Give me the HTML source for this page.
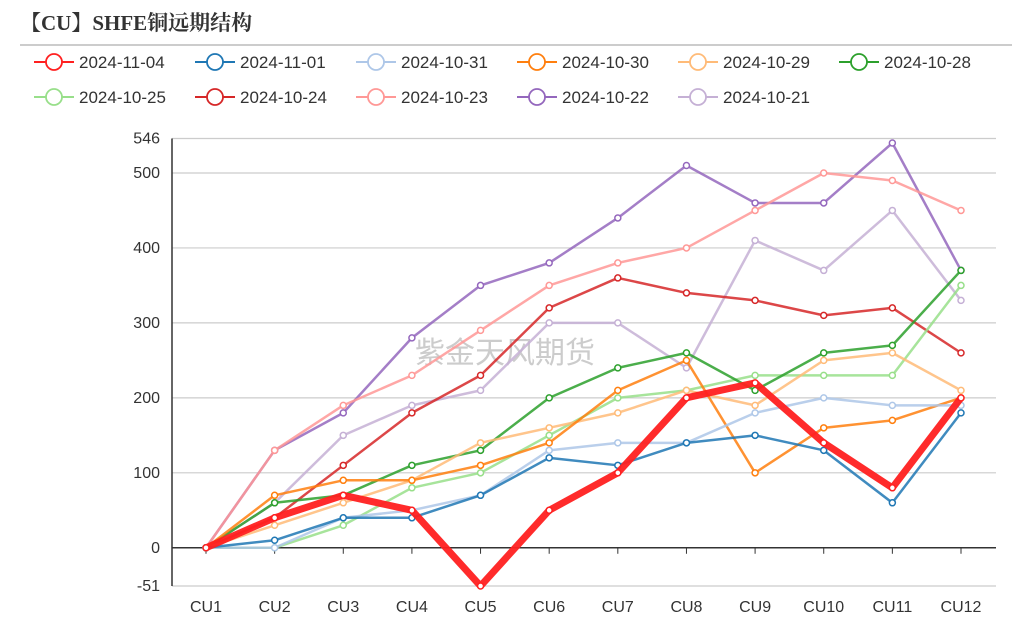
<!DOCTYPE html>
<html><head><meta charset="utf-8"><style>
body{margin:0;background:#fff;width:1012px;height:621px;overflow:hidden;font-family:"Liberation Sans","Noto Sans CJK SC",sans-serif}
</style></head><body>
<svg id="chart" width="1012" height="621" xmlns="http://www.w3.org/2000/svg">
<text x="20" y="30" font-family="'Liberation Serif','Noto Serif CJK SC',serif" font-weight="bold" font-size="21" fill="#333">【CU】SHFE铜远期结构</text>
<line x1="20" y1="45" x2="1012" y2="45" stroke="#999" stroke-width="1"/>
<text x="415" y="363" font-size="30" fill="#ccc" font-family="'Noto Sans CJK SC',sans-serif">紫金天风期货</text>
<g id="legend"></g><g id="axes"></g><g id="lines"></g>
</svg>
<script>
const categories=["CU1","CU2","CU3","CU4","CU5","CU6","CU7","CU8","CU9","CU10","CU11","CU12"];
const seriesNames=["2024-11-04","2024-11-01","2024-10-31","2024-10-30","2024-10-29","2024-10-28","2024-10-25","2024-10-24","2024-10-23","2024-10-22","2024-10-21"];
const s1104=[0,40,70,50,-51,50,100,200,220,140,80,200];
const s1101=[0,10,40,40,70,120,110,140,150,130,60,180];
const s1031=[0,0,40,50,70,130,140,140,180,200,190,190];
const s1030=[0,70,90,90,110,140,210,250,100,160,170,200];
const s1029=[0,30,60,90,140,160,180,210,190,250,260,210];
const s1028=[0,60,70,110,130,200,240,260,210,260,270,370];
const s1025=[0,0,30,80,100,150,200,210,230,230,230,350];
const s1024=[0,40,110,180,230,320,360,340,330,310,320,260];
const s1023=[0,130,190,230,290,350,380,400,450,500,490,450];
const s1022=[0,130,180,280,350,380,440,510,460,460,540,370];
const s1021=[0,60,150,190,210,300,300,240,410,370,450,330];
const yTicks=[-51,0,100,200,300,400,500,546];
const seriesData=[s1104,s1101,s1031,s1030,s1029,s1028,s1025,s1024,s1023,s1022,s1021];
const colors=["#ff2020","#1f77b4","#aec7e8","#ff7f0e","#ffbb78","#2ca02c","#98df8a","#d62728","#ff9896","#9467bd","#c5b0d5"];
const NS="http://www.w3.org/2000/svg";
const yMin=-51,yMax=546,plotTop=138.5,plotBot=586;
const y=v=>plotBot-(v-yMin)/(yMax-yMin)*(plotBot-plotTop);
const x=i=>206+i*(961-206)/(categories.length-1);
function mk(t,a,p){const e=document.createElementNS(NS,t);for(const k in a)e.setAttribute(k,a[k]);p.appendChild(e);return e;}
const axes=document.getElementById('axes');
yTicks.forEach(t=>{
 const g=mk('line',{x1:172,x2:996,y1:y(t),y2:y(t),stroke:t===0?'#333':'#ccc','stroke-width':t===0?1.5:1.2},axes);
 
 
 const tx=mk('text',{x:160,y:y(t)+5,'text-anchor':'end','font-size':16,fill:'#333'},axes);tx.textContent=t;
 
 
});
const ya=mk('line',{x1:172,x2:172,y1:plotTop,y2:plotBot,stroke:'#333','stroke-width':1.5},axes);


categories.forEach((c,i)=>{
 mk('line',{x1:x(i),x2:x(i),y1:y(0),y2:y(0)+6,stroke:'#333'},axes);
 const tx=mk('text',{x:x(i),y:612,'text-anchor':'middle','font-size':16,fill:'#333'},axes);tx.textContent=c;
 
 
});
const lines=document.getElementById('lines');
for(let k=seriesData.length-1;k>=0;k--){
 const d=seriesData[k];const g=mk('g',{},lines);
 
 
 mk('polyline',{points:d.map((v,i)=>x(i)+','+y(v)).join(' '),fill:'none',stroke:colors[k],'stroke-width':k===0?7:2.5,'stroke-opacity':k===0?0.95:0.85,'stroke-linejoin':'round'},g);
 d.forEach((v,i)=>{const c=mk('circle',{cx:x(i),cy:y(v),r:3,fill:'#fff',stroke:colors[k],'stroke-width':1.5},g);
 
 });
}
const leg=document.getElementById('legend');
seriesNames.forEach((n,k)=>{
 const row=k<6?0:1,col=k<6?k:k-6;const lx=34+col*161,ly=row?97:62;
 const g=mk('g',{},leg);
 
 
 mk('line',{x1:lx,x2:lx+40,y1:ly,y2:ly,stroke:colors[k],'stroke-width':2},g);
 mk('circle',{cx:lx+20,cy:ly,r:8,fill:'#fff',stroke:colors[k],'stroke-width':1.8},g);
 const t=mk('text',{x:lx+45,y:ly+6,'font-size':17,fill:'#333'},g);t.textContent=n;
});
</script>
</body></html>
